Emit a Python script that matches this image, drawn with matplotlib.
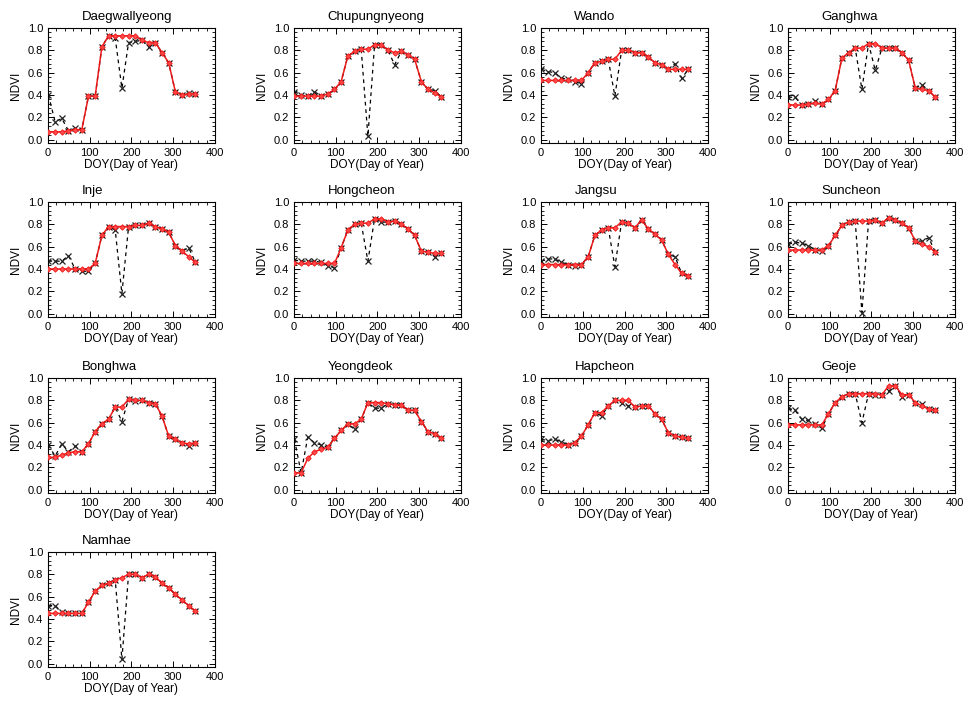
import numpy as np
import matplotlib
matplotlib.use("Agg")
from matplotlib import pyplot as plt
from matplotlib.ticker import MultipleLocator

plt.rcParams['font.family'] = ['Liberation Sans', 'DejaVu Sans']

doy = [1, 17, 33, 49, 65, 81, 97, 113, 129, 145, 161, 177, 193, 209, 225, 241, 257, 273, 289, 305, 321, 337, 353]

sites = ['Daegwallyeong', 'Chupungnyeong', 'Wando', 'Ganghwa',
         'Inje', 'Hongcheon', 'Jangsu', 'Suncheon',
         'Bonghwa', 'Yeongdeok', 'Hapcheon', 'Geoje',
         'Namhae']

# raw NDVI (black x, dashed)
raw_daegwallyeong = [0.40, 0.16, 0.19, 0.08, 0.10, 0.09, 0.39, 0.39, 0.83, 0.93, 0.91, 0.46, 0.87, 0.88, 0.89, 0.83, 0.87, 0.78, 0.69, 0.43, 0.40, 0.42, 0.41]
raw_chupungnyeong = [0.43, 0.40, 0.39, 0.43, 0.39, 0.41, 0.45, 0.52, 0.75, 0.79, 0.81, 0.03, 0.85, 0.85, 0.80, 0.67, 0.79, 0.76, 0.72, 0.52, 0.45, 0.44, 0.38]
raw_wando = [0.63, 0.61, 0.60, 0.55, 0.54, 0.52, 0.50, 0.60, 0.69, 0.70, 0.72, 0.39, 0.80, 0.80, 0.78, 0.78, 0.74, 0.69, 0.67, 0.63, 0.68, 0.55, 0.63]
raw_ganghwa = [0.38, 0.38, 0.31, 0.32, 0.35, 0.32, 0.36, 0.44, 0.73, 0.78, 0.82, 0.45, 0.86, 0.62, 0.82, 0.82, 0.82, 0.78, 0.71, 0.46, 0.49, 0.44, 0.38]
raw_inje = [0.47, 0.47, 0.47, 0.52, 0.40, 0.38, 0.38, 0.45, 0.70, 0.78, 0.75, 0.18, 0.78, 0.79, 0.79, 0.81, 0.78, 0.76, 0.73, 0.61, 0.56, 0.59, 0.46]
raw_hongcheon = [0.48, 0.47, 0.47, 0.47, 0.46, 0.43, 0.41, 0.59, 0.75, 0.80, 0.81, 0.47, 0.85, 0.82, 0.82, 0.83, 0.80, 0.76, 0.70, 0.56, 0.55, 0.51, 0.54]
raw_jangsu = [0.47, 0.49, 0.49, 0.46, 0.44, 0.43, 0.44, 0.51, 0.70, 0.75, 0.77, 0.42, 0.82, 0.81, 0.77, 0.84, 0.76, 0.71, 0.66, 0.53, 0.51, 0.36, 0.34]
raw_suncheon = [0.62, 0.64, 0.63, 0.61, 0.57, 0.56, 0.61, 0.70, 0.79, 0.82, 0.83, 0.01, 0.83, 0.84, 0.81, 0.86, 0.84, 0.81, 0.77, 0.65, 0.65, 0.68, 0.55]
raw_bonghwa = [0.40, 0.30, 0.41, 0.34, 0.39, 0.34, 0.41, 0.52, 0.59, 0.63, 0.74, 0.61, 0.81, 0.79, 0.80, 0.78, 0.77, 0.66, 0.48, 0.45, 0.42, 0.39, 0.42]
raw_yeongdeok = [0.45, 0.15, 0.47, 0.42, 0.40, 0.38, 0.46, 0.53, 0.59, 0.54, 0.63, 0.78, 0.73, 0.73, 0.77, 0.76, 0.76, 0.71, 0.71, 0.61, 0.52, 0.50, 0.46]
raw_hapcheon = [0.45, 0.44, 0.45, 0.43, 0.40, 0.42, 0.48, 0.58, 0.69, 0.66, 0.75, 0.80, 0.78, 0.75, 0.74, 0.75, 0.75, 0.68, 0.63, 0.51, 0.48, 0.47, 0.46]
raw_geoje = [0.73, 0.71, 0.63, 0.62, 0.59, 0.55, 0.68, 0.78, 0.83, 0.86, 0.86, 0.60, 0.86, 0.85, 0.85, 0.88, 0.93, 0.83, 0.85, 0.78, 0.77, 0.72, 0.71]
raw_namhae = [0.52, 0.52, 0.46, 0.45, 0.45, 0.45, 0.55, 0.65, 0.70, 0.72, 0.75, 0.04, 0.80, 0.80, 0.77, 0.80, 0.78, 0.72, 0.68, 0.62, 0.57, 0.52, 0.47]

# smoothed NDVI (red)
fit_daegwallyeong = [0.07, 0.07, 0.07, 0.08, 0.09, 0.09, 0.39, 0.39, 0.83, 0.93, 0.93, 0.93, 0.93, 0.93, 0.89, 0.87, 0.87, 0.78, 0.69, 0.43, 0.40, 0.41, 0.41]
fit_chupungnyeong = [0.39, 0.39, 0.39, 0.39, 0.39, 0.41, 0.45, 0.52, 0.75, 0.79, 0.81, 0.81, 0.85, 0.85, 0.80, 0.78, 0.79, 0.76, 0.72, 0.52, 0.45, 0.42, 0.38]
fit_wando = [0.53, 0.53, 0.53, 0.53, 0.53, 0.53, 0.53, 0.60, 0.69, 0.70, 0.72, 0.72, 0.80, 0.80, 0.78, 0.78, 0.74, 0.69, 0.67, 0.63, 0.63, 0.63, 0.63]
fit_ganghwa = [0.31, 0.31, 0.31, 0.32, 0.33, 0.32, 0.36, 0.44, 0.73, 0.78, 0.82, 0.82, 0.86, 0.86, 0.82, 0.82, 0.82, 0.78, 0.71, 0.46, 0.45, 0.44, 0.38]
fit_inje = [0.40, 0.40, 0.40, 0.40, 0.40, 0.40, 0.40, 0.45, 0.70, 0.78, 0.78, 0.78, 0.78, 0.79, 0.79, 0.81, 0.78, 0.76, 0.73, 0.61, 0.56, 0.51, 0.46]
fit_hongcheon = [0.45, 0.45, 0.45, 0.45, 0.45, 0.45, 0.45, 0.59, 0.75, 0.80, 0.81, 0.81, 0.85, 0.85, 0.82, 0.83, 0.80, 0.76, 0.70, 0.56, 0.55, 0.54, 0.54]
fit_jangsu = [0.44, 0.44, 0.44, 0.44, 0.44, 0.44, 0.44, 0.51, 0.70, 0.75, 0.77, 0.77, 0.82, 0.81, 0.77, 0.84, 0.76, 0.71, 0.66, 0.53, 0.44, 0.36, 0.34]
fit_suncheon = [0.57, 0.57, 0.57, 0.57, 0.57, 0.57, 0.61, 0.70, 0.79, 0.82, 0.83, 0.83, 0.83, 0.84, 0.81, 0.86, 0.84, 0.81, 0.77, 0.65, 0.62, 0.60, 0.55]
fit_bonghwa = [0.29, 0.29, 0.31, 0.33, 0.34, 0.34, 0.41, 0.52, 0.59, 0.63, 0.74, 0.74, 0.81, 0.80, 0.80, 0.78, 0.77, 0.66, 0.48, 0.45, 0.42, 0.41, 0.42]
fit_yeongdeok = [0.15, 0.15, 0.28, 0.34, 0.36, 0.38, 0.46, 0.53, 0.59, 0.59, 0.63, 0.78, 0.78, 0.78, 0.77, 0.76, 0.76, 0.71, 0.71, 0.61, 0.52, 0.50, 0.46]
fit_hapcheon = [0.40, 0.40, 0.40, 0.40, 0.40, 0.42, 0.48, 0.58, 0.69, 0.69, 0.75, 0.80, 0.80, 0.80, 0.74, 0.75, 0.75, 0.68, 0.63, 0.51, 0.48, 0.47, 0.46]
fit_geoje = [0.58, 0.58, 0.58, 0.58, 0.58, 0.58, 0.68, 0.78, 0.83, 0.86, 0.86, 0.86, 0.86, 0.86, 0.85, 0.93, 0.93, 0.85, 0.85, 0.78, 0.75, 0.72, 0.71]
fit_namhae = [0.45, 0.45, 0.45, 0.45, 0.45, 0.45, 0.55, 0.65, 0.70, 0.72, 0.75, 0.77, 0.80, 0.80, 0.77, 0.80, 0.78, 0.72, 0.68, 0.62, 0.57, 0.52, 0.47]

raw_list = [raw_daegwallyeong, raw_chupungnyeong, raw_wando, raw_ganghwa,
            raw_inje, raw_hongcheon, raw_jangsu, raw_suncheon,
            raw_bonghwa, raw_yeongdeok, raw_hapcheon, raw_geoje, raw_namhae]
fit_list = [fit_daegwallyeong, fit_chupungnyeong, fit_wando, fit_ganghwa,
            fit_inje, fit_hongcheon, fit_jangsu, fit_suncheon,
            fit_bonghwa, fit_yeongdeok, fit_hapcheon, fit_geoje, fit_namhae]

W, H = 970, 720
col_left = [48, 294, 541, 788]
row_top = [28, 202, 378, 552]
ax_w, ax_h = 167, 115

fig = plt.figure(figsize=(W / 100, H / 100), dpi=100)

for i, name in enumerate(sites):
    r, c = divmod(i, 4)
    left = col_left[c] / W
    bottom = 1 - (row_top[r] + ax_h) / H
    ax = fig.add_axes([left, bottom, ax_w / W, ax_h / H])

    # raw series: dashed line + x markers underneath the fit
    ax.plot(doy, raw_list[i], color='black', ls=(0, (3, 3)), lw=0.9, zorder=1)
    ax.plot(doy, raw_list[i], ls='none', marker='x', ms=3.8, mew=0.9,
            color='#222222', zorder=2)
    # smoothed series on top
    ax.plot(doy, fit_list[i], color='#f01010', lw=1.1, marker='D', ms=2.8,
            mfc='#ff4a4a', mec='#f01010', mew=0.6, alpha=0.95, zorder=3)

    ax.set_xlim(0, 400)
    ax.set_ylim(-0.03, 1.0)
    ax.xaxis.set_major_locator(MultipleLocator(100))
    ax.xaxis.set_minor_locator(MultipleLocator(20))
    ax.yaxis.set_minor_locator(MultipleLocator(0.04))
    ax.set_yticks([0, 0.2, 0.4, 0.6, 0.8, 1.0])
    ax.set_yticklabels(['0.0', '0.2', '0.4', '0.6', '0.8', '1.0'])
    ax.tick_params(which='both', direction='in', top=True, right=True, labelsize=8)
    ax.tick_params(which='major', length=4, width=0.7)
    ax.tick_params(which='minor', length=2, width=0.6)
    for sp in ax.spines.values():
        sp.set_linewidth(0.8)

    ax.set_xlabel('DOY(Day of Year)', fontsize=8.5, labelpad=1)
    ax.set_ylabel('NDVI', fontsize=8.5, labelpad=4)
    ax.text(0.2, 1.04, name, transform=ax.transAxes, ha='left', va='bottom', fontsize=9.5)

plt.savefig('out.png', dpi=100)
